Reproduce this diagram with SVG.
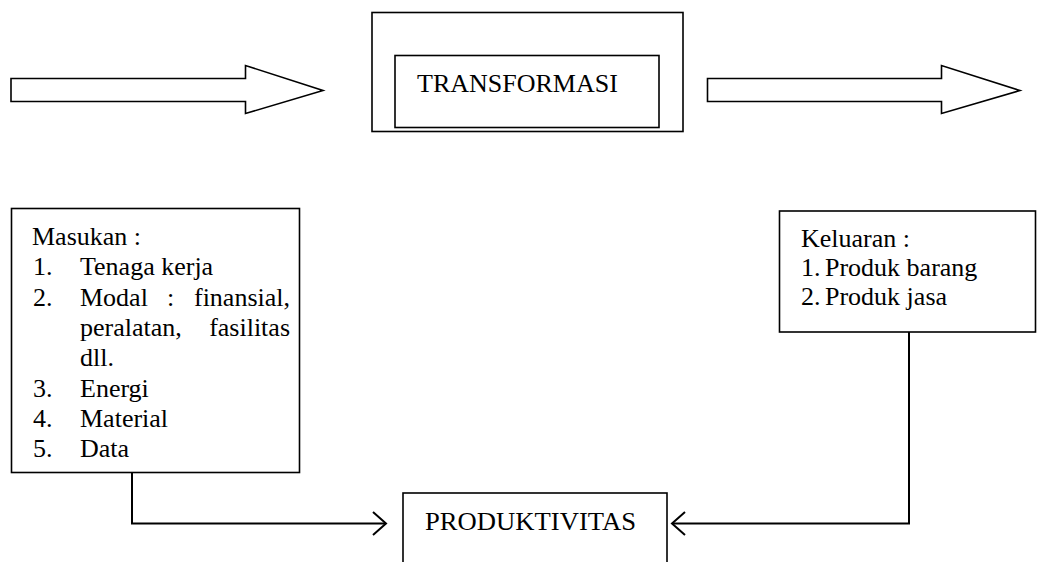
<svg xmlns="http://www.w3.org/2000/svg" width="1038" height="562" viewBox="0 0 1038 562">
<style>
.s{fill:#fff;stroke:#000;stroke-width:1.6}
.t{font-family:"Liberation Serif","Times New Roman",serif;font-size:26px;fill:#000}
.c{fill:none;stroke:#000;stroke-width:2}
</style>
<rect width="1038" height="562" fill="#fff"/>
<g id="arrow-in">
<polygon class="s" points="11,78.5 245.5,78.5 245.5,65.5 323,90.5 245.5,113.5 245.5,101.5 11,101.5"/>
</g>
<g id="transformasi">
<rect class="s" x="372" y="12.5" width="311" height="119"/>
<rect class="s" x="395" y="55.5" width="264" height="72"/>
<text class="t" x="417" y="92">TRANSFORMASI</text>
</g>
<g id="arrow-out">
<polygon class="s" points="707.5,78.5 941.5,78.5 941.5,65.5 1020,90.5 941.5,113.5 941.5,101.5 707.5,101.5"/>
</g>
<g id="masukan">
<rect class="s" x="11.5" y="208.5" width="288" height="264"/>
<text class="t" x="32" y="245">Masukan :</text>
<text class="t" x="33" y="275">1.</text><text class="t" x="80" y="275">Tenaga kerja</text>
<text class="t" x="33" y="305.5">2.</text><text class="t" x="80" y="305.5">Modal</text><text class="t" x="167" y="305.5">:</text><text class="t" x="290" y="305.5" text-anchor="end">finansial,</text>
<text class="t" x="80" y="336">peralatan,</text><text class="t" x="290" y="336" text-anchor="end">fasilitas</text>
<text class="t" x="80" y="366">dll.</text>
<text class="t" x="33" y="396.5">3.</text><text class="t" x="80" y="396.5">Energi</text>
<text class="t" x="33" y="427">4.</text><text class="t" x="80" y="427">Material</text>
<text class="t" x="33" y="457">5.</text><text class="t" x="80" y="457">Data</text>
</g>
<g id="keluaran">
<rect class="s" x="779.5" y="211" width="256" height="121"/>
<text class="t" x="801" y="247">Keluaran :</text>
<text class="t" x="801" y="276">1.</text><text class="t" x="825" y="276">Produk barang</text>
<text class="t" x="801" y="305">2.</text><text class="t" x="825" y="305">Produk jasa</text>
</g>
<g id="produktivitas">
<rect class="s" x="403" y="493" width="264" height="80"/>
<text class="t" x="425" y="530" textLength="211" lengthAdjust="spacingAndGlyphs">PRODUKTIVITAS</text>
</g>
<g id="connectors">
<polyline class="c" points="132,472.5 132,523.5 386,523.5"/>
<polyline class="c" points="373,512 386,523.5 373,535"/>
<polyline class="c" points="909,332 909,523.5 672,523.5"/>
<polyline class="c" points="685,512 672,523.5 685,535"/>
</g>
</svg>
